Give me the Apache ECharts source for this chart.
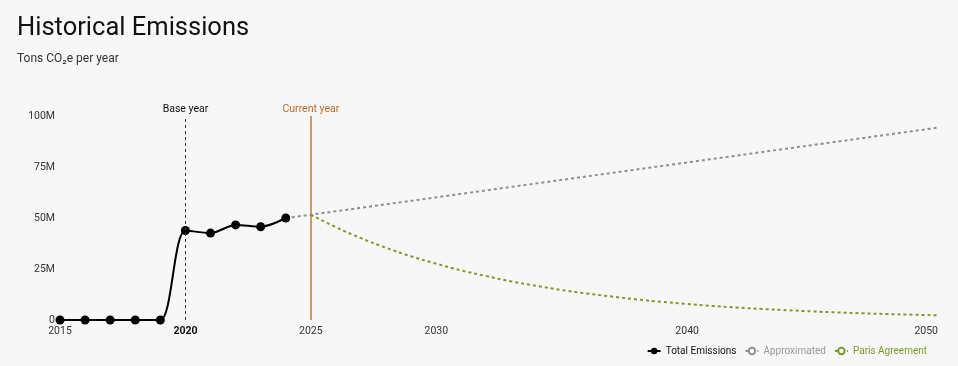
<!DOCTYPE html>
<html>
<head>
<meta charset="utf-8">
<script src="https://cdn.jsdelivr.net/npm/echarts@6/dist/echarts.min.js"></script>
<style>
html,body{margin:0;padding:0;background:#f7f7f7;}
#c{width:958px;height:366px;}
</style>
</head>
<body>
<div id="c"></div>
<script>
var totalYears = [2015, 2016, 2017, 2018, 2019, 2020, 2021, 2022, 2023, 2024];
var totalValues = [0, 0, 0, 0, 0, 43.9e6, 42.6e6, 46.6e6, 45.7e6, 50.0e6];
var approxYears = [2024, 2025, 2050];
var approxValues = [50.0e6, 51.6e6, 94.3e6];
var parisYears = [2025, 2026, 2027, 2028, 2029, 2030, 2031, 2032, 2033, 2034, 2035, 2036, 2037, 2038, 2039, 2040, 2041, 2042, 2043, 2044, 2045, 2046, 2047, 2048, 2049, 2050];
var parisValues = [51.6e6, 45.5e6, 40.1e6, 35.4e6, 31.2e6, 27.6e6, 24.3e6, 21.5e6, 18.9e6, 16.7e6, 14.7e6, 13.0e6, 11.5e6, 10.1e6, 8.9e6, 7.9e6, 6.9e6, 6.1e6, 5.4e6, 4.8e6, 4.2e6, 3.7e6, 3.3e6, 2.9e6, 2.6e6, 2.3e6];
var xTickLabels = {2015: '2015', 2020: '{b|2020}', 2025: '2025', 2030: '2030', 2040: '2040', 2050: '2050'};
var yTickLabels = {0: '0', 25e6: '25M', 50e6: '50M', 75e6: '75M', 100e6: '100M'};
var baseYear = 2020, currentYear = 2025;

function pairs(xs, ys) { return xs.map(function (x, i) { return [x, ys[i]]; }); }

var FONT = 'Roboto, "Noto Sans", sans-serif';
var chart = echarts.init(document.getElementById('c'));
chart.setOption({
  backgroundColor: '#f7f7f7',
  textStyle: { fontFamily: FONT },
  title: {
    text: 'Historical Emissions',
    subtext: 'Tons CO₂e per year',
    left: 12,
    top: 11,
    itemGap: 11,
    textStyle: { fontFamily: FONT, fontSize: 25.5, fontWeight: 'normal', color: '#111' },
    subtextStyle: { fontFamily: FONT, fontSize: 12, color: '#333' }
  },
  grid: { left: 60, right: 20, top: 116, bottom: 46 },
  legend: {
    right: 26,
    bottom: 5,
    itemWidth: 13,
    itemHeight: 8,
    itemGap: 8,
    textStyle: { fontFamily: FONT, fontSize: 10 },
    data: [
      { name: 'Total Emissions', textStyle: { color: '#111' } },
      { name: 'Approximated', textStyle: { color: '#999' } },
      { name: 'Paris Agreement', textStyle: { color: '#7b9a2c' } }
    ]
  },
  xAxis: {
    type: 'value',
    min: 2015,
    max: 2050,
    interval: 5,
    splitLine: { show: false },
    axisLine: { show: false },
    axisTick: { show: false },
    axisLabel: {
      margin: 6,
      fontFamily: FONT,
      fontSize: 10.5,
      color: '#333',
      alignMaxLabel: 'right',
      formatter: function (v) { return xTickLabels[v] || ''; },
      rich: { b: { fontWeight: 'bold', fontSize: 10.5, color: '#111', fontFamily: FONT } }
    }
  },
  yAxis: {
    type: 'value',
    min: 0,
    max: 100e6,
    interval: 25e6,
    splitLine: { show: false },
    axisLine: { show: false },
    axisTick: { show: false },
    axisLabel: {
      margin: 5,
      fontFamily: FONT,
      fontSize: 10.5,
      color: '#333',
      formatter: function (v) { return yTickLabels[v]; }
    }
  },
  series: [
    {
      name: 'Approximated',
      type: 'line',
      data: pairs(approxYears, approxValues),
      showSymbol: false,
      symbol: 'emptyCircle',
      itemStyle: { color: '#8f8f8f' },
      lineStyle: { color: '#8f8f8f', width: 2, type: [3, 3] },
      z: 2
    },
    {
      name: 'Paris Agreement',
      type: 'line',
      data: pairs(parisYears, parisValues),
      smooth: true,
      showSymbol: false,
      symbol: 'emptyCircle',
      itemStyle: { color: '#7b9a2c' },
      lineStyle: { color: '#7b9a2c', width: 2, type: [3, 3] },
      z: 2
    },
    {
      name: 'Total Emissions',
      type: 'line',
      data: pairs(totalYears, totalValues),
      smooth: 0.3,
      symbol: 'circle',
      symbolSize: 9,
      itemStyle: { color: '#000' },
      lineStyle: { color: '#000', width: 2 },
      z: 3
    },
    {
      name: 'baseMarker',
      type: 'line',
      data: [],
      itemStyle: { color: '#333' },
      lineStyle: { color: '#333' },
      markLine: {
        silent: true,
        symbol: 'none',
        animation: false,
        lineStyle: { color: '#333', type: [3, 3], width: 1 },
        label: { formatter: 'Base year', position: 'end', color: '#111', fontSize: 10.5, fontFamily: FONT, distance: 1 },
        data: [{ xAxis: baseYear }]
      }
    },
    {
      name: 'currentMarker',
      type: 'line',
      data: [],
      itemStyle: { color: '#b87a4c' },
      lineStyle: { color: '#b87a4c' },
      markLine: {
        silent: true,
        symbol: 'none',
        animation: false,
        lineStyle: { color: '#b87a4c', type: 'solid', width: 1.5, opacity: 1 },
        label: { formatter: 'Current year', position: 'end', color: '#b5692c', fontSize: 10.5, fontFamily: FONT, distance: 1 },
        data: [{ xAxis: currentYear }]
      }
    }
  ],
  animation: false
});
</script>
</body>
</html>
